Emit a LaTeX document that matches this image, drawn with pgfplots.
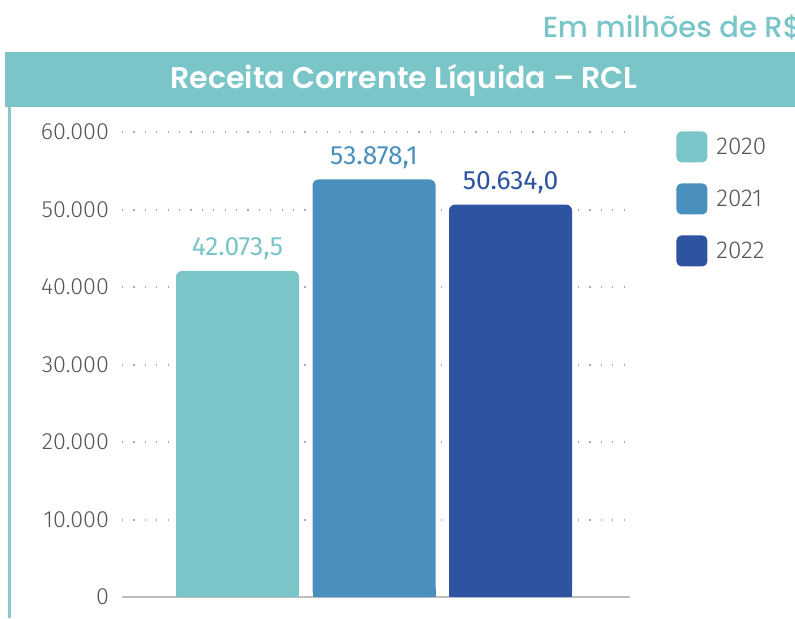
\documentclass[border=0pt]{standalone}
\usepackage{fontspec}
\usepackage{pgfplots}
\pgfplotsset{compat=1.18}
\setmainfont{Fira Sans}
\newfontfamily\fl{Fira Sans Light}
\newfontfamily\poppinssb{Poppins SemiBold}
\newfontfamily\poppinsmd{Poppins Medium}
\definecolor{c2020}{RGB}{121,197,200}
\definecolor{c2021}{RGB}{74,144,190}
\definecolor{c2022}{RGB}{46,84,161}
\definecolor{clrTick}{RGB}{85,85,85}
\definecolor{clrGrid}{RGB}{170,170,170}
\definecolor{clrBase}{RGB}{190,190,190}

\begin{document}
\begin{tikzpicture}
% page = 795 x 618 px, 1 px = 0.5pt
\path[use as bounding box] (0,0) rectangle (397.5pt,309pt);
% header
\fill[c2020] (2.5pt,255.5pt) rectangle (400pt,283pt);
\draw[c2020!90, line width=1.25pt] (4.75pt,255.5pt) -- (4.75pt,0pt);
\node[anchor=base, inner sep=0pt, text=white, font=\poppinssb\fontsize{15}{17}\selectfont] at (202pt,265pt) {Receita Corrente Líquida – RCL};
\node[anchor=base east, inner sep=0pt, text=c2020, font=\poppinsmd\fontsize{14.5}{16}\selectfont] at (401pt,290.5pt) {Em milhões de R\$};

\begin{axis}[
  at={(61pt,10.5pt)}, anchor=south west,
  scale only axis, width=254pt, height=232.5pt,
  ymin=0, ymax=60000,
  xmin=-0.846, xmax=2.875,
  ytick={0,10000,...,60000},
  xtick=\empty,
  axis x line*=bottom, axis y line*=left,
  x axis line style={clrBase, line width=1pt, -},
  y axis line style={draw=none},
  major tick length=0pt,
  ymajorgrids=true,
  grid style={clrGrid, line width=1pt, dash pattern=on 0.6pt off 5.1pt},
  yticklabel style={font=\fl\fontsize{11.7}{13}\selectfont, text=clrTick, xshift=-3pt},
  /pgf/number format/assume math mode=true,
  yticklabel={\pgfmathprintnumber[fixed,1000 sep={.}]{\tick}},
  scaled y ticks=false,
  ybar, bar width=61.5pt, bar shift=0pt,
  clip=false,
  legend style={draw=none, fill=none, at={(1,1)}, anchor=north west, xshift=20pt, yshift=2.5pt,
    font=\fl\fontsize{12.2}{14}\selectfont, text=clrTick,
    row sep=10.5pt, /tikz/every odd column/.append style={column sep=2.5pt}},
  legend image code/.code={\fill[#1, rounded corners=2.5pt] (0pt,-7.5pt) rectangle (15.5pt,8pt);},
  legend cell align=left,
  every node near coord/.append style={font=\fontsize{13.2}{15}\selectfont, anchor=base, yshift=7.5pt,
    /pgf/number format/fixed, /pgf/number format/fixed zerofill, /pgf/number format/precision=1,
    /pgf/number format/1000 sep={.}, /pgf/number format/dec sep={,}},
]
\addplot[fill=c2020, draw=none, rounded corners=3pt, nodes near coords,
  every node near coord/.append style={text=c2020}] coordinates {(0,42073.5)};
\addlegendentry{2020}
\addplot[fill=c2021, draw=none, rounded corners=3pt, nodes near coords,
  every node near coord/.append style={text=c2021}] coordinates {(1,53878.1)};
\addlegendentry{2021}
\addplot[fill=c2022, draw=none, rounded corners=3pt, nodes near coords,
  every node near coord/.append style={text=c2022}] coordinates {(2,50634.0)};
\addlegendentry{2022}
% square off the lower corners
\addplot[fill=c2020, draw=none, forget plot, y filter/.expression={min(y,1000)}] coordinates {(0,42073.5)};
\addplot[fill=c2021, draw=none, forget plot, y filter/.expression={min(y,1000)}] coordinates {(1,53878.1)};
\addplot[fill=c2022, draw=none, forget plot, y filter/.expression={min(y,1000)}] coordinates {(2,50634.0)};
\end{axis}
\end{tikzpicture}
\end{document}
